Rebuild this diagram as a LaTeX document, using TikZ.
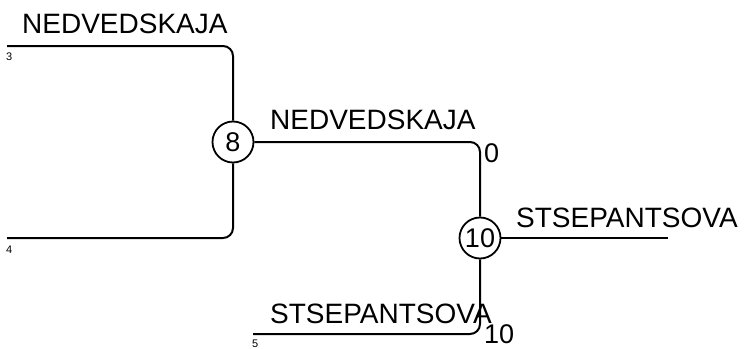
\documentclass[tikz,border=0pt]{standalone}
\usepackage{fontspec}
\setmainfont{Liberation Sans}
\begin{document}
\begin{tikzpicture}[x=1pt,y=-1pt,
  wire/.style={line width=2pt,rounded corners=10pt},
  matchnode/.style={circle,draw,line width=1.8pt,minimum size=41pt,inner sep=0pt,font=\fontsize{27}{27}\selectfont},
  plname/.style={anchor=base west,inner sep=0pt,font=\fontsize{28}{28}\selectfont},
  seedlbl/.style={anchor=base west,inner sep=0pt,font=\fontsize{11}{11}\selectfont},
  scorelbl/.style={anchor=base west,inner sep=0pt,font=\fontsize{27}{27}\selectfont}]
\useasboundingbox (0,0) rectangle (749,348);
\node[matchnode] (c8) at (233,142) {8};
\node[matchnode] (c10) at (480,238) {10};
\coordinate (p3) at (7,46);
\coordinate (p4) at (7,238);
\coordinate (p5) at (253,334);
\coordinate (win) at (668,238);
\draw[wire] (p3) -| (c8);
\draw[wire] (p4) -| (c8);
\draw[wire] (c8) -| (c10);
\draw[wire] (p5) -| (c10);
\draw[wire] (c10) -- (win);
\node[plname] (l1) at (22,33) {NEDVEDSKAJA};
\node[plname] (l2) at (270,129) {NEDVEDSKAJA};
\node[plname] (l3) at (516,227) {STSEPANTSOVA};
\node[plname] (l4) at (270,323) {STSEPANTSOVA};
\node[seedlbl] (s3) at (6,60) {3};
\node[seedlbl] (s4) at (6,253) {4};
\node[seedlbl] (s5) at (252,347) {5};
\node[scorelbl] (sc0) at (484,162) {0};
\node[scorelbl] (sc10) at (484,343) {10};
\end{tikzpicture}
\end{document}
